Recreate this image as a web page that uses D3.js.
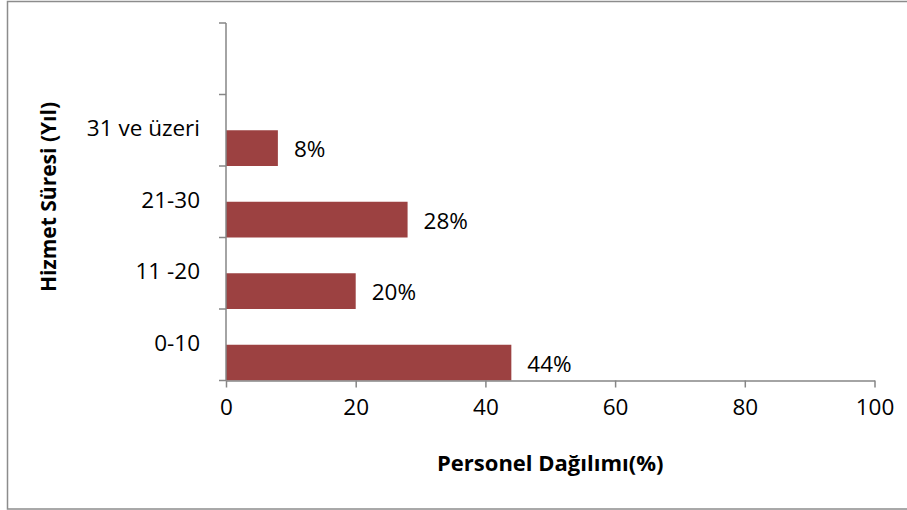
<!DOCTYPE html>
<html>
<head>
<meta charset="utf-8">
<script src="https://cdn.jsdelivr.net/npm/d3@7"></script>
<style>
  body { margin: 0; background: #fff; }
  text { font-family: "Open Sans", Lato, sans-serif; fill: #000; }
</style>
</head>
<body>
<svg id="drawing_region"></svg>
<script>
// categories from bottom to top; last slot is empty in the original chart
const categories = ['0-10', '11 -20', '21-30', '31 ve üzeri', ''];
const values = [44, 20, 28, 8];
const xTicks = [0, 20, 40, 60, 80, 100];

const width = 907, height = 510;
const margin = {top: 23, right: 32.5, bottom: 129.5, left: 226};

const svg = d3.select('#drawing_region')
    .attr('width', width)
    .attr('height', height);

// outer chart border
svg.append('rect')
    .attr('x', 7.5).attr('y', 1.5)
    .attr('width', width).attr('height', height - 2.5)
    .attr('fill', 'none')
    .attr('stroke', '#8c8c8c')
    .attr('stroke-width', 1.5);

const inner_width = width - margin.left - margin.right;
const inner_height = height - margin.top - margin.bottom;

const chart = svg.append('g')
    .attr('transform', `translate(${margin.left}, ${margin.top})`);

const x = d3.scaleLinear().domain([0, 100]).range([0, inner_width]);
const y = d3.scaleBand().domain(categories).range([inner_height, 0]);

// bars sit in the lower half of each band
chart.selectAll('rect.bar')
    .data(values)
    .enter()
    .append('rect')
    .attr('class', 'bar')
    .attr('x', x(0))
    .attr('y', (d, i) => y(categories[i]) + y.bandwidth() / 2)
    .attr('width', d => x(d) - x(0))
    .attr('height', y.bandwidth() / 2)
    .attr('fill', '#9c4141');

chart.selectAll('text.label')
    .data(values)
    .enter()
    .append('text')
    .attr('class', 'label')
    .attr('x', d => x(d) + 16)
    .attr('y', (d, i) => y(categories[i]) + y.bandwidth() * 0.75 + 3)
    .attr('dominant-baseline', 'middle')
    .style('font-size', '22.5px')
    .text(d => d + '%');

// x axis
const xAxis = chart.append('g')
    .attr('transform', `translate(0, ${inner_height})`)
    .call(d3.axisBottom(x).tickValues(xTicks).tickSize(7).tickSizeOuter(0).tickPadding(12));
xAxis.select('.domain').attr('stroke', '#868686').attr('stroke-width', 1.5);
xAxis.selectAll('.tick line').attr('stroke', '#868686').attr('stroke-width', 1.5);
xAxis.selectAll('.tick text').style('font-size', '22.5px').attr('font-family', null);

// y axis: ticks at band boundaries
const yAxis = chart.append('g');
yAxis.append('line')
    .attr('x1', 0).attr('x2', 0)
    .attr('y1', 0).attr('y2', inner_height)
    .attr('stroke', '#868686').attr('stroke-width', 1.5);
yAxis.selectAll('line.tick')
    .data(categories)
    .enter()
    .append('line')
    .attr('class', 'tick')
    .attr('x1', -7).attr('x2', 0)
    .attr('y1', d => y(d)).attr('y2', d => y(d))
    .attr('stroke', '#868686').attr('stroke-width', 1.5);
yAxis.append('line')
    .attr('x1', -7).attr('x2', 0)
    .attr('y1', inner_height).attr('y2', inner_height)
    .attr('stroke', '#868686').attr('stroke-width', 1.5);
yAxis.selectAll('text.cat')
    .data(categories)
    .enter()
    .append('text')
    .attr('class', 'cat')
    .attr('x', -26)
    .attr('y', d => y(d) + y.bandwidth() / 2)
    .attr('text-anchor', 'end')
    .attr('dominant-baseline', 'middle')
    .style('font-size', '22.5px')
    .text(d => d);

// axis titles
svg.append('text')
    .attr('x', margin.left + inner_width / 2)
    .attr('y', 465)
    .attr('text-anchor', 'middle')
    .attr('dominant-baseline', 'middle')
    .style('font-size', '22px')
    .style('font-weight', 'bold')
    .text('Personel Dağılımı(%)');

svg.append('text')
    .attr('transform', 'translate(50, 197) rotate(-90)')
    .attr('text-anchor', 'middle')
    .attr('dominant-baseline', 'middle')
    .style('font-size', '21px')
    .style('font-weight', 'bold')
    .text('Hizmet Süresi (Yıl)');
</script>
</body>
</html>
